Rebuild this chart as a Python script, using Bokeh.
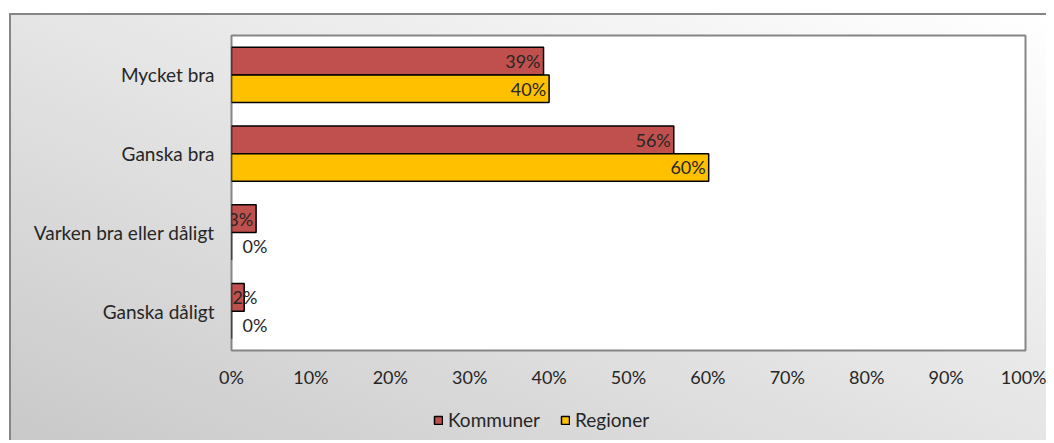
from bokeh.plotting import figure
from bokeh.layouts import column
from bokeh.models import ColumnDataSource, FactorRange, Legend, LegendItem, NumeralTickFormatter, FixedTicker
from bokeh.transform import dodge
from bokeh.embed import file_html
from bokeh.resources import INLINE
from bokeh.core.properties import value

categories = ["Mycket bra", "Ganska bra", "Varken bra eller dåligt", "Ganska dåligt"]
series_names = ["Kommuner", "Regioner"]
kommuner = [0.393, 0.557, 0.031, 0.016]
regioner = [0.400, 0.601, 0.000, 0.000]
kommuner_labels = ["39%", "56%", "3%", "2%"]
regioner_labels = ["40%", "60%", "0%", "0%"]
x_ticks = [0, 0.1, 0.2, 0.3, 0.4, 0.5, 0.6, 0.7, 0.8, 0.9, 1.0]

FONT = "Lato"
FS = "18px"
CAT_FS = "19px"
TXT = "#262626"
RED = "#C0504D"
YEL = "#FFC000"

src = ColumnDataSource(dict(cat=categories, k=kommuner, r=regioner))

p = figure(frame_width=794, frame_height=315,
           y_range=FactorRange(factors=list(reversed(categories))),
           x_range=(0, 1), output_backend="svg", toolbar_location=None,
           min_border_left=220, min_border_right=21, min_border_top=20, min_border_bottom=50)
p.border_fill_alpha = 0
p.background_fill_color = "white"
p.outline_line_color = "#868686"
p.outline_line_width = 2

bh = 0.35
p.hbar(y=dodge("cat", bh / 2, range=p.y_range), right="k", left=0, height=bh, source=src,
       fill_color=RED, line_color="black", line_width=1.5)
p.hbar(y=dodge("cat", -bh / 2, range=p.y_range), right="r", left=0, height=bh, source=src,
       fill_color=YEL, line_color="black", line_width=1.5)

def split(vals, labs):
    groups = {"end": [], "start": [], "zero": []}
    for i, v in enumerate(vals):
        if v <= 0:
            groups["zero"].append(i)
        elif v < 0.025:
            groups["start"].append(i)
        else:
            groups["end"].append(i)
    return {k: ColumnDataSource(dict(cat=[categories[i] for i in idx],
                                     v=[vals[i] for i in idx],
                                     z=[0] * len(idx),
                                     t=[labs[i] for i in idx]))
            for k, idx in groups.items()}

for vals, labs, off in [(kommuner, kommuner_labels, bh / 2), (regioner, regioner_labels, -bh / 2)]:
    g = split(vals, labs)
    yy = dodge("cat", off, range=p.y_range)
    p.text(x="v", y=yy, text="t", source=g["end"],
           text_align="right", text_baseline="middle", x_offset=-3,
           text_font=value(FONT), text_font_size=FS, text_color=TXT)
    p.text(x="z", y=yy, text="t", source=g["start"],
           text_align="left", text_baseline="middle", x_offset=1,
           text_font=value(FONT), text_font_size=FS, text_color=TXT)
    p.text(x="z", y=yy, text="t", source=g["zero"],
           text_align="left", text_baseline="middle", x_offset=11,
           text_font=value(FONT), text_font_size=FS, text_color=TXT)

p.xgrid.visible = False
p.ygrid.visible = False

xa = p.xaxis[0]
xa.ticker = FixedTicker(ticks=x_ticks)
xa.formatter = NumeralTickFormatter(format="0%")
xa.axis_line_color = None
xa.major_tick_line_color = None
xa.minor_tick_line_color = None
xa.major_tick_out = 0
xa.major_label_standoff = 15
xa.major_label_text_font = FONT
xa.major_label_text_font_size = FS
xa.major_label_text_color = TXT

ya = p.yaxis[0]
ya.axis_line_color = None
ya.major_tick_line_color = None
ya.minor_tick_line_color = None
ya.major_tick_out = 0
ya.major_label_standoff = 17
ya.major_label_text_font = FONT
ya.major_label_text_font_size = CAT_FS
ya.major_label_text_color = TXT

# legend strip below the chart; proxy renderers sit outside the strip's ranges
lf = figure(width=1035, height=40, output_backend="svg", toolbar_location=None,
            x_axis_type=None, y_axis_type=None, x_range=(0, 1), y_range=(0, 1),
            min_border_left=0, min_border_right=0, min_border_top=0, min_border_bottom=0)
lf.border_fill_alpha = 0
lf.background_fill_alpha = 0
lf.outline_line_color = None
lf.xgrid.visible = False
lf.ygrid.visible = False
proxy = ColumnDataSource(dict(y=[-5], right=[0]))
lk = lf.hbar(y="y", right="right", left=0, height=0.1, source=proxy,
             fill_color=RED, line_color="black", line_width=1.5)
lr = lf.hbar(y="y", right="right", left=0, height=0.1, source=proxy,
             fill_color=YEL, line_color="black", line_width=1.5)
legend = Legend(items=[LegendItem(label=series_names[0], renderers=[lk]),
                       LegendItem(label=series_names[1], renderers=[lr])],
                orientation="horizontal", location=(199, 6),
                glyph_width=10, glyph_height=10, spacing=20, label_standoff=5,
                padding=3, margin=0,
                label_text_font=FONT, label_text_font_size=CAT_FS, label_text_color=TXT,
                background_fill_alpha=0, border_line_alpha=0)
lf.add_layout(legend)

layout = column(p, lf, spacing=0)
layout.margin = (13, 0, 0, 9)
layout.styles = {"background": "linear-gradient(to top right, #c9c9c9 0%, #e2e2e2 45%, #ffffff 100%)",
                 "border-top": "2px solid #868686", "border-left": "2px solid #868686"}

open("out.html", "w").write(file_html(layout, INLINE))
